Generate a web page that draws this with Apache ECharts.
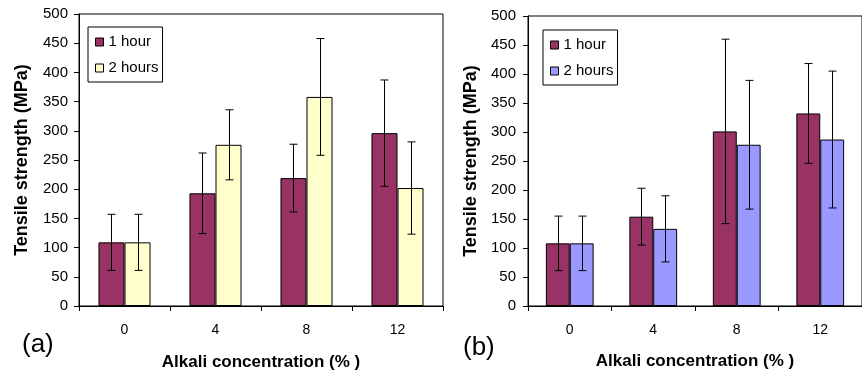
<!DOCTYPE html>
<html>
<head>
<meta charset="utf-8">
<script src="https://cdn.jsdelivr.net/npm/echarts@6/dist/echarts.min.js"></script>
<style>
html,body{margin:0;padding:0;background:#fff;}
#chart{width:862px;height:376px;}
</style>
</head>
<body>
<div id="chart"></div>
<script>
const categories = ['0', '4', '8', '12'];
const yTicks = [0, 500, 50];
const aOneHour = [109, 193, 219, 296];
const aOneHourErr = [48, 69, 58, 91];
const aTwoHours = [109, 276, 358, 202];
const aTwoHoursErr = [48, 60, 100, 79];
const bOneHour = [108, 154, 301, 332];
const bOneHourErr = [47, 49, 159, 86];
const bTwoHours = [108, 133, 278, 287];
const bTwoHoursErr = [47, 57, 111, 118];

const FONT = '"Liberation Sans", Arial, sans-serif';
const C1 = '#993366', C2a = '#FFFFCC', C2b = '#9999FF';
const BAR_PCT = 0.286;

function errData(vals, errs) {
  return vals.map((v, i) => [i, v - errs[i], v + errs[i]]);
}
function errSeries(vals, errs, side, axisIdx) {
  return {
    type: 'custom',
    xAxisIndex: axisIdx, yAxisIndex: axisIdx,
    silent: true, z: 10,
    data: errData(vals, errs),
    renderItem: function (params, api) {
      const band = api.size([1, 0])[0];
      const off = side * band * BAR_PCT / 2;
      const lo = api.coord([api.value(0), api.value(1)]);
      const hi = api.coord([api.value(0), api.value(2)]);
      const x = Math.round(lo[0] + off) + 0.5;
      const cap = 4;
      const st = { stroke: '#000', lineWidth: 1 };
      return {
        type: 'group',
        children: [
          { type: 'line', shape: { x1: x, y1: hi[1], x2: x, y2: lo[1] }, style: st },
          { type: 'line', shape: { x1: x - cap, y1: hi[1], x2: x + cap, y2: hi[1] }, style: st },
          { type: 'line', shape: { x1: x - cap, y1: lo[1], x2: x + cap, y2: lo[1] }, style: st }
        ]
      };
    }
  };
}
function barSeries(name, vals, color, idx) {
  return {
    type: 'bar', name: name, data: vals,
    xAxisIndex: idx, yAxisIndex: idx,
    barWidth: (BAR_PCT * 100) + '%', barGap: '0%',
    itemStyle: { color: color, borderColor: '#000', borderWidth: 1 },
    emphasis: { disabled: true }
  };
}
function xAxisCfg(idx, gap) {
  return {
    type: 'category', gridIndex: idx, data: categories,
    axisLine: { lineStyle: { color: '#000', width: 1 } },
    axisTick: { show: true, length: 5, alignWithLabel: false, lineStyle: { color: '#000' } },
    axisLabel: { color: '#000', fontFamily: FONT, fontSize: 14, margin: 17 },
    name: 'Alkali concentration (% )', nameLocation: 'middle', nameGap: gap,
    nameTextStyle: { color: '#000', fontFamily: FONT, fontSize: 17, fontWeight: 'bold' }
  };
}
function yAxisCfg(idx, margin, gap) {
  return {
    type: 'value', gridIndex: idx, min: yTicks[0], max: yTicks[1], interval: yTicks[2],
    axisLine: { show: true, lineStyle: { color: '#000', width: 1 } },
    axisTick: { show: true, length: 5, lineStyle: { color: '#000' } },
    splitLine: { show: false },
    axisLabel: { color: '#000', fontFamily: FONT, fontSize: 15, margin: margin },
    name: 'Tensile strength (MPa)', nameLocation: 'middle', nameGap: gap,
    nameTextStyle: { color: '#000', fontFamily: FONT, fontSize: 18, fontWeight: 'bold' }
  };
}
function legendCfg(left, top, color2) {
  return {
    orient: 'vertical', left: left, top: top,
    backgroundColor: '#fff', borderColor: '#000', borderWidth: 1,
    padding: [7, 4, 6, 7], itemGap: 10, itemWidth: 8, itemHeight: 8,
    icon: 'rect',
    textStyle: { color: '#000', fontFamily: FONT, fontSize: 15, lineHeight: 16 },
    itemStyle: { borderColor: '#000', borderWidth: 1 },
    selectedMode: false,
    data: [
      { name: '1 hour', itemStyle: { color: C1, borderColor: '#000', borderWidth: 1 } },
      { name: '2 hours', itemStyle: { color: color2, borderColor: '#000', borderWidth: 1 } }
    ]
  };
}

const chart = echarts.init(document.getElementById('chart'), null, { renderer: 'canvas' });
chart.setOption({
  backgroundColor: '#fff',
  animation: false,
  grid: [
    { left: 79, top: 14, width: 364, height: 293, show: true, borderColor: '#000', borderWidth: 1, backgroundColor: 'transparent' },
    { left: 528, top: 16, width: 346, height: 290, show: true, borderColor: '#000', borderWidth: 1, backgroundColor: 'transparent' }
  ],
  xAxis: [xAxisCfg(0, 48), xAxisCfg(1, 47)],
  yAxis: [yAxisCfg(0, 11, 48), yAxisCfg(1, 12, 48)],
  legend: [legendCfg(88, 27, C2a), legendCfg(543, 30, C2b)],
  graphic: [
    { type: 'text', left: 22, top: 332, style: { text: '(a)', font: '26px ' + FONT, fill: '#000' } },
    { type: 'text', left: 463, top: 335, style: { text: '(b)', font: '26px ' + FONT, fill: '#000' } }
  ],
  series: [
    barSeries('1 hour', aOneHour, C1, 0),
    barSeries('2 hours', aTwoHours, C2a, 0),
    errSeries(aOneHour, aOneHourErr, -1, 0),
    errSeries(aTwoHours, aTwoHoursErr, 1, 0),
    barSeries('1 hour', bOneHour, C1, 1),
    barSeries('2 hours', bTwoHours, C2b, 1),
    errSeries(bOneHour, bOneHourErr, -1, 1),
    errSeries(bTwoHours, bTwoHoursErr, 1, 1)
  ]
});
</script>
</body>
</html>
